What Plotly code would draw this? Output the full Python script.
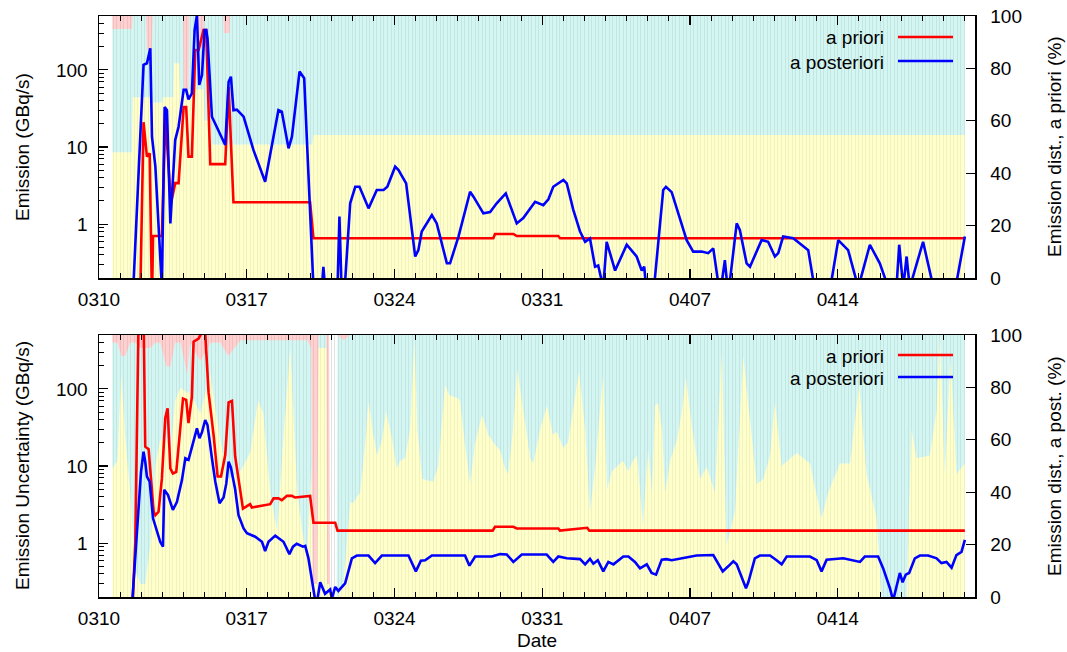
import numpy as np
import pandas as pd
import plotly.graph_objects as go

T0 = pd.Timestamp("2011-03-10 00:00")
X_END = T0 + pd.Timedelta(days=41.5)

# ---------------- data (days since 2011-03-10 00:00) ----------------
# top panel: emission, a priori
pri_top_days = [1.95, 2.11, 2.27, 2.40, 2.51, 2.56, 2.98, 3.14, 3.41, 3.61, 3.77, 4.01, 4.13, 4.24,
                4.40, 4.56, 4.72, 4.95, 5.08, 5.27, 5.98, 6.14, 6.37, 10.00, 10.16, 18.68, 18.76,
                19.63, 19.79, 21.76, 21.84, 41.02]
pri_top_vals = [0.1, 21, 7.5, 8.3, 0.1, 0.70, 0.70, 24.7, 1.86, 3.4, 3.4, 33, 33, 7.5, 7.5, 181,
                181, 329, 329, 6.0, 6.0, 60, 1.92, 1.92, 0.655, 0.655, 0.745, 0.745, 0.70, 0.70,
                0.655, 0.655]

# top panel: emission, a posteriori
post_top_days = [1.64, 2.11, 2.27, 2.43, 2.51, 2.67, 2.98, 3.11, 3.22, 3.38,
                 3.61, 3.77, 4.01, 4.13, 4.24, 4.40, 4.53, 4.64, 4.75, 4.88,
                 5.00, 5.08, 5.14, 5.35, 5.98, 6.14, 6.25, 6.37, 6.53, 6.85,
                 7.32, 7.87, 8.50, 8.66, 8.98, 9.14, 9.50, 9.72, 10.16, 10.56,
                 10.63, 10.71, 11.30, 11.39, 11.49, 11.66, 11.90, 12.14, 12.34, 12.77,
                 13.16, 13.48, 13.66, 14.03, 14.19, 14.55, 14.98, 15.13, 15.29, 15.77,
                 16.00, 16.48, 16.63, 17.03, 17.58, 17.74, 18.21, 18.53, 18.84, 19.08,
                 19.27, 19.79, 20.10, 20.66, 21.05, 21.29, 21.52, 22.00, 22.16, 22.47,
                 22.79, 23.03, 23.26, 23.50, 23.65, 23.89, 24.05, 24.45, 25.00, 25.47,
                 25.71, 25.83, 25.95, 26.26, 26.73, 26.86, 27.13, 27.84, 28.15, 28.55,
                 28.86, 29.10, 29.42, 29.65, 29.81, 30.21, 30.36, 30.68, 30.84, 31.39,
                 31.70, 32.02, 32.18, 32.41, 32.89, 33.60, 34.00, 34.54, 35.02, 35.49,
                 35.97, 36.52, 36.99, 37.62, 37.78, 37.91, 38.10, 38.26, 38.41, 39.04,
                 39.68, 40.46, 41.02]
post_top_vals = [0.18, 116, 122, 191, 13.6, 5.6, 0.15, 33, 30, 1.02,
                 12.3, 18.3, 55, 55, 41.5, 49.6, 329, 515, 63.7, 85.9,
                 329, 329, 257, 24.7, 10.6, 70, 81.6, 30, 30.5, 24.7,
                 9.1, 3.55, 30, 28.7, 9.6, 13.6, 95, 77.8, 0.15, 0.15,
                 0.28, 0.15, 0.15, 1.25, 0.15, 0.18, 1.86, 3.05, 3.05, 1.6,
                 2.77, 2.77, 3.05, 5.56, 5.03, 3.38, 0.38, 0.46, 0.80, 1.31,
                 1.02, 0.31, 0.31, 0.69, 2.63, 2.27, 1.38, 1.43, 1.86, 2.2,
                 2.5, 1.02, 1.2, 1.95, 1.76, 2.1, 3.05, 3.73, 3.38, 1.53,
                 0.80, 0.59, 0.65, 0.28, 0.29, 0.15, 0.59, 0.25, 0.54, 0.38,
                 0.25, 0.28, 0.12, 0.12, 2.77, 3.05, 2.6, 0.62, 0.44, 0.44,
                 0.42, 0.485, 0.12, 0.34, 0.12, 1.02, 0.84, 0.31, 0.28, 0.62,
                 0.59, 0.38, 0.42, 0.69, 0.655, 0.46, 0.1, 0.1, 0.62, 0.46,
                 0.15, 0.54, 0.31, 0.1, 0.15, 0.54, 0.15, 0.38, 0.15, 0.59,
                 0.1, 0.1, 0.69]

# bottom panel: uncertainty, a priori
pri_bot_days = [1.56, 1.72, 1.88, 2.11, 2.19, 2.35, 2.59, 2.67, 2.82, 2.98,
                3.14, 3.25, 3.38, 3.50, 3.66, 3.98, 4.13, 4.24, 4.40, 4.48,
                4.72, 4.88, 5.03, 5.19, 5.43, 5.62, 5.78, 5.98, 6.14, 6.30,
                6.45, 6.77, 6.82, 7.16, 7.24, 8.11, 8.27, 8.50, 8.66, 8.90,
                9.14, 9.29, 10.00, 10.16, 11.19, 11.30, 18.65, 18.76, 19.63, 19.79,
                21.76, 21.84, 22.87, 23.13, 23.23, 41.02]
pri_bot_vals = [0.1, 1.04, 1000, 1000, 17.8, 16.5, 2.55, 2.3, 2.55, 6.9,
                42, 56, 9.3, 8.0, 8.4, 75, 72, 36, 79, 409,
                450, 550, 550, 90, 25, 7.3, 7.3, 13.9, 67, 70,
                13.3, 3.1, 2.8, 3.2, 2.9, 3.2, 3.8, 3.8, 3.6, 4.1,
                4.1, 3.9, 4.1, 1.84, 1.84, 1.45, 1.45, 1.63, 1.63, 1.55,
                1.55, 1.45, 1.58, 1.58, 1.45, 1.45]

# bottom panel: uncertainty, a posteriori
post_bot_days = [1.56, 1.99, 2.11, 2.19, 2.27, 2.40, 2.56, 2.75, 2.90, 3.03,
                 3.09, 3.27, 3.50, 3.69, 3.93, 4.09, 4.24, 4.45, 4.64, 4.76,
                 4.88, 5.03, 5.14, 5.35, 5.51, 5.71, 5.90, 6.03, 6.14, 6.25,
                 6.45, 6.61, 6.85, 7.01, 7.40, 7.72, 7.87, 8.03, 8.35, 8.74,
                 9.02, 9.19, 9.37, 9.66, 9.77, 9.92, 10.13, 10.29, 10.48, 10.71,
                 10.95, 11.03, 11.19, 11.34, 11.66, 11.87, 11.98, 12.22, 12.77, 13.08,
                 13.40, 14.66, 15.01, 15.25, 15.45, 15.77, 17.34, 17.55, 17.82, 18.61,
                 19.00, 19.32, 19.63, 20.03, 21.21, 21.52, 21.76, 22.16, 22.79, 23.03,
                 23.26, 23.42, 23.63, 23.89, 24.13, 24.37, 24.53, 24.84, 25.08, 25.39,
                 25.63, 25.95, 26.18, 26.39, 26.66, 26.89, 27.13, 27.60, 28.31, 29.10,
                 29.55, 29.81, 30.05, 30.21, 30.65, 30.76, 31.07, 31.31, 31.79, 32.10,
                 32.34, 32.58, 33.68, 34.00, 34.23, 34.47, 35.26, 36.05, 36.28, 36.91,
                 37.15, 37.47, 37.62, 37.94, 38.07, 38.22, 38.38, 38.65, 38.89, 39.28,
                 39.68, 39.91, 40.15, 40.39, 40.62, 40.86, 41.02]
post_bot_vals = [0.15, 8.4, 15.3, 11.4, 7.3, 6.25, 2.1, 1.41, 1.04, 0.90,
                 4.9, 4.2, 2.7, 3.4, 6.6, 12.6, 12.0, 19.7, 30.8, 22.9,
                 27.5, 39.5, 34, 12.6, 6.25, 3.3, 3.9, 5.9, 11.4, 9.5,
                 5.0, 2.3, 1.55, 1.34, 1.21, 1.04, 0.79, 1.04, 1.25, 1.04,
                 0.72, 0.90, 0.98, 0.90, 0.92, 0.64, 0.29, 0.15, 0.31, 0.22,
                 0.25, 0.19, 0.27, 0.24, 0.30, 0.47, 0.635, 0.69, 0.69, 0.55,
                 0.69, 0.69, 0.43, 0.59, 0.6, 0.69, 0.69, 0.51, 0.67, 0.67,
                 0.72, 0.71, 0.57, 0.71, 0.71, 0.57, 0.67, 0.635, 0.62, 0.53,
                 0.625, 0.54, 0.6, 0.43, 0.57, 0.53, 0.57, 0.67, 0.67, 0.57,
                 0.47, 0.53, 0.41, 0.39, 0.61, 0.62, 0.6, 0.635, 0.69, 0.70,
                 0.43, 0.50, 0.58, 0.53, 0.26, 0.31, 0.635, 0.69, 0.69, 0.6,
                 0.53, 0.67, 0.67, 0.6, 0.43, 0.61, 0.635, 0.57, 0.67, 0.67,
                 0.47, 0.26, 0.18, 0.41, 0.31, 0.39, 0.41, 0.635, 0.69, 0.69,
                 0.635, 0.55, 0.57, 0.48, 0.70, 0.77, 1.1]

# emission distribution (%), a priori: upper edges of the stacked bands
dist_top_days = [0.63, 1.56, 1.60, 2.22, 2.27, 2.50, 2.55, 2.98, 3.02, 3.52,
                 3.56, 3.80, 3.85, 3.98, 4.02, 4.24, 4.28, 4.70, 4.74, 4.95,
                 5.00, 5.30, 5.35, 5.88, 5.92, 6.18, 6.22, 10.10, 10.16, 41.02]
dist_top_yellow = [48, 48, 69, 69, 69, 69, 67, 67, 69, 69,
                   82, 82, 70, 70, 70, 70, 72, 72, 72, 72,
                   60, 60, 51, 51, 51, 51, 51, 51, 54.6, 54.6]
dist_top_cyan = [95, 95, 100, 100, 87, 87, 100, 100, 100, 100,
                 100, 100, 100, 100, 72, 72, 100, 100, 88, 88,
                 100, 100, 100, 100, 93.5, 93.5, 100, 100, 100, 100]
dist_top_pink = [100, 100, 100, 100, 100, 100, 100, 100, 100, 100,
                 100, 100, 100, 100, 100, 100, 100, 100, 100, 100,
                 100, 100, 100, 100, 100, 100, 100, 100, 100, 100]

# emission distribution (%), a posteriori: upper edges of the stacked bands
dist_bot_days = [0.63, 0.87, 1.06, 1.25, 1.48, 1.72, 1.96, 2.19, 2.43, 2.67,
                 2.90, 3.19, 3.38, 3.61, 3.85, 4.18, 4.32, 4.80, 5.27, 5.74,
                 6.13, 6.70, 7.16, 7.54, 7.78, 8.11, 8.44, 8.73, 9.06, 9.39,
                 9.63, 9.86, 10.05, 10.12, 10.34, 10.40, 10.77, 10.81, 10.90, 10.95,
                 11.26, 11.30, 11.58, 11.90, 12.05, 12.37, 12.61, 12.77, 12.99, 13.18,
                 13.41, 13.60, 13.89, 14.10, 14.27, 14.50, 14.74, 14.94, 15.08, 15.31,
                 15.83, 16.07, 16.40, 16.59, 16.97, 17.10, 17.34, 17.58, 17.82, 18.15,
                 18.43, 18.77, 19.00, 19.24, 19.38, 19.62, 19.81, 20.09, 20.43, 20.57,
                 20.90, 21.22, 21.50, 21.70, 21.99, 22.22, 22.46, 22.74, 23.03, 23.26,
                 23.50, 23.88, 24.07, 24.30, 24.83, 25.07, 25.30, 25.49, 25.77, 26.01,
                 26.20, 26.34, 26.49, 26.67, 26.82, 27.06, 27.38, 27.62, 27.80, 28.08,
                 28.47, 28.79, 29.18, 29.50, 29.73, 30.13, 30.52, 31.16, 31.47, 31.79,
                 32.02, 32.34, 33.05, 33.68, 34.23, 34.55, 35.10, 35.58, 36.01, 36.36,
                 36.84, 37.07, 38.26, 38.49, 38.73, 39.36, 39.68, 39.83, 40.07, 40.34,
                 40.63, 41.02]
dist_bot_yellow = [49, 52, 85, 60, 40, 10, 5, 5, 20, 50,
                   60, 60, 55, 75, 80, 78, 78, 70, 85, 60,
                   45, 48, 55, 75, 70, 40, 25, 60, 95, 40,
                   25, 15, 50, 5, 5, 95, 95, 5, 5, 0,
                   0, 0, 5, 36, 36, 40, 58, 74.5, 62, 54,
                   60, 71, 60, 49, 52, 53, 64, 98, 64, 45,
                   44, 50, 81, 77, 76, 75, 58, 43, 59, 69.5,
                   62, 58, 56, 49, 47, 64, 87, 72, 53, 51,
                   64, 73, 62, 63, 57, 59, 72, 86, 64, 32.6,
                   49, 85, 41, 48, 52, 48, 52, 54, 27.5, 56,
                   40, 73, 74, 64, 40, 52, 60, 71, 84, 65.6,
                   45, 49.6, 40, 93.6, 20, 32.6, 92, 43, 45, 54,
                   74.5, 50, 55, 51, 30, 40, 51, 51, 81, 47,
                   30, 0, 0, 64, 53, 54, 71, 100, 47, 91,
                   47, 51]
dist_bot_cyan = [97, 97, 92, 92, 97, 97, 95, 95, 95, 97,
                 97, 88, 88, 97, 97, 85, 97, 90, 97, 97,
                 92, 98, 98, 98, 98, 98, 98, 98, 98, 98,
                 98, 98, 95, 5, 5, 100, 100, 5, 5, 0,
                 0, 100, 98, 100, 100, 100, 100, 100, 100, 100,
                 100, 100, 100, 100, 100, 100, 100, 100, 100, 100,
                 100, 100, 100, 100, 100, 100, 100, 100, 100, 100,
                 100, 100, 100, 100, 100, 100, 100, 100, 100, 100,
                 100, 100, 100, 100, 100, 100, 100, 100, 100, 100,
                 100, 100, 100, 100, 100, 100, 100, 100, 100, 100,
                 100, 100, 100, 100, 100, 100, 100, 100, 100, 100,
                 100, 100, 100, 100, 100, 100, 100, 100, 100, 100,
                 100, 100, 100, 100, 100, 100, 100, 100, 100, 100,
                 100, 100, 100, 100, 100, 100, 100, 100, 100, 100,
                 100, 100]
dist_bot_pink = [100, 100, 100, 100, 100, 100, 100, 100, 100, 100,
                 100, 100, 100, 100, 100, 100, 100, 100, 100, 100,
                 100, 100, 100, 100, 100, 100, 100, 100, 100, 100,
                 100, 100, 100, 100, 100, 100, 100, 100, 100, 0,
                 0, 100, 100, 100, 100, 100, 100, 100, 100, 100,
                 100, 100, 100, 100, 100, 100, 100, 100, 100, 100,
                 100, 100, 100, 100, 100, 100, 100, 100, 100, 100,
                 100, 100, 100, 100, 100, 100, 100, 100, 100, 100,
                 100, 100, 100, 100, 100, 100, 100, 100, 100, 100,
                 100, 100, 100, 100, 100, 100, 100, 100, 100, 100,
                 100, 100, 100, 100, 100, 100, 100, 100, 100, 100,
                 100, 100, 100, 100, 100, 100, 100, 100, 100, 100,
                 100, 100, 100, 100, 100, 100, 100, 100, 100, 100,
                 100, 100, 100, 100, 100, 100, 100, 100, 100, 100,
                 100, 100]

tick_days = [0, 7, 14, 21, 28, 35]
tick_text = ["0310", "0317", "0324", "0331", "0407", "0414"]
series_names = ["a priori", "a posteriori"]

# ---------------- styling ----------------
FONT_FAMILY = "Liberation Sans, Arial, Helvetica, sans-serif"
FS = 19
RED = "rgb(255,0,0)"
BLUE = "rgb(0,0,255)"
YELLOW = "rgba(255,255,160,0.55)"
CYAN = "rgba(160,236,228,0.45)"
PINK = "rgba(255,150,150,0.45)"
STRIPE = "#e2e2e2"

W, H = 1067, 652
L, R, T, B = 99, 975, 16, 597
TOP_BOTTOM_PX = 278
BOT_TOP_PX = 335


def when(days):
    return [T0 + pd.Timedelta(days=float(d)) for d in days]


def px_x(px):
    return (px - L) / (R - L)


def px_y(py):
    return (B - py) / (B - T)


fig = go.Figure()


def add_background(days, yel, cyan, pink, xa, ya):
    xs = when(days)
    fig.add_trace(go.Scatter(x=xs, y=yel, mode="lines", line=dict(width=0), fill="tozeroy",
                             fillcolor=YELLOW, xaxis=xa, yaxis=ya, showlegend=False, hoverinfo="skip"))
    fig.add_trace(go.Scatter(x=xs, y=cyan, mode="lines", line=dict(width=0), fill="tonexty",
                             fillcolor=CYAN, xaxis=xa, yaxis=ya, showlegend=False, hoverinfo="skip"))
    fig.add_trace(go.Scatter(x=xs, y=pink, mode="lines", line=dict(width=0), fill="tonexty",
                             fillcolor=PINK, xaxis=xa, yaxis=ya, showlegend=False, hoverinfo="skip"))


add_background(dist_top_days, dist_top_yellow, dist_top_cyan, dist_top_pink, "x", "y")
add_background(dist_bot_days, dist_bot_yellow, dist_bot_cyan, dist_bot_pink, "x2", "y3")

# dummy traces so the stripe axes exist
fig.add_trace(go.Scatter(x=[T0], y=[None], xaxis="x3", yaxis="y", showlegend=False, hoverinfo="skip"))
fig.add_trace(go.Scatter(x=[T0], y=[None], xaxis="x4", yaxis="y3", showlegend=False, hoverinfo="skip"))

for days, vals, col, xa, ya in [
    (pri_top_days, pri_top_vals, RED, "x", "y2"),
    (post_top_days, post_top_vals, BLUE, "x", "y2"),
    (pri_bot_days, pri_bot_vals, RED, "x2", "y4"),
    (post_bot_days, post_bot_vals, BLUE, "x2", "y4"),
]:
    fig.add_trace(go.Scatter(x=when(days), y=vals, mode="lines", line=dict(color=col, width=2.6),
                             xaxis=xa, yaxis=ya, showlegend=False, hoverinfo="skip"))

tick_font = dict(family=FONT_FAMILY, size=FS, color="black")
top_dom = [px_y(TOP_BOTTOM_PX), 1.0]
bot_dom = [0.0, px_y(BOT_TOP_PX)]

stripe_vals = pd.date_range("2011-03-10 16:00", "2011-04-20 00:00", freq="4h")


def xaxis_main(anchor):
    return dict(type="date", domain=[0, 1], anchor=anchor, range=[T0, X_END], automargin=False,
                tickmode="array", tickvals=when(tick_days), ticktext=tick_text,
                ticks="inside", ticklen=9, tickwidth=1.2, tickcolor="black",
                showline=True, linecolor="black", linewidth=1.5, mirror="ticks",
                showgrid=False, zeroline=False, tickfont=tick_font, ticklabelstandoff=4,
                minor=dict(tickmode="linear", tick0=T0, dtick=86400000, ticks="inside",
                           ticklen=5, tickwidth=1, tickcolor="black", showgrid=False))


def xaxis_stripe(over, anchor):
    return dict(type="date", overlaying=over, anchor=anchor, range=[T0, X_END], automargin=False,
                tickmode="array", tickvals=stripe_vals, showticklabels=False, ticks="",
                showgrid=True, gridcolor=STRIPE, gridwidth=1, showline=False, zeroline=False)


def yaxis_pct(dom, anchor):
    return dict(domain=dom, anchor=anchor, side="right", range=[0, 100], automargin=False,
                tickmode="array", tickvals=[0, 20, 40, 60, 80, 100],
                ticks="inside", ticklen=9, tickwidth=1.2, tickcolor="black",
                showline=True, linecolor="black", linewidth=1.5, showgrid=False,
                zeroline=False, tickfont=tick_font, ticklabelstandoff=10)


minor_log = [0.2, 0.3, 0.4, 0.5, 0.6, 0.7, 0.8, 0.9, 2, 3, 4, 5, 6, 7, 8, 9,
             20, 30, 40, 50, 60, 70, 80, 90, 200, 300, 400, 500]


def yaxis_log(over, anchor):
    return dict(type="log", overlaying=over, anchor=anchor, side="left", automargin=False,
                range=[np.log10(0.2), np.log10(500)],
                tickmode="array", tickvals=[1, 10, 100], ticktext=["1", "10", "100"],
                ticks="inside", ticklen=9, tickwidth=1.2, tickcolor="black",
                showline=True, linecolor="black", linewidth=1.5, showgrid=False,
                zeroline=False, tickfont=tick_font, ticklabelstandoff=6,
                minor=dict(tickmode="array", tickvals=minor_log, ticks="inside", ticklen=5,
                           tickwidth=1, tickcolor="black", showgrid=False))


fig.update_layout(
    width=W, height=H,
    margin=dict(l=L, r=W - R, t=T, b=H - B, pad=0, autoexpand=False),
    paper_bgcolor="white", plot_bgcolor="white",
    font=dict(family=FONT_FAMILY, size=FS, color="black"),
    showlegend=False,
    hovermode=False,
    xaxis=xaxis_main("y"),
    xaxis2=xaxis_main("y3"),
    xaxis3=xaxis_stripe("x", "y"),
    xaxis4=xaxis_stripe("x2", "y3"),
    yaxis=yaxis_pct(top_dom, "x"),
    yaxis2=yaxis_log("y", "x"),
    yaxis3=yaxis_pct(bot_dom, "x2"),
    yaxis4=yaxis_log("y3", "x2"),
)

ann = []
ann.append(dict(text="Emission (GBq/s)", x=px_x(22), y=px_y(147), textangle=-90))
ann.append(dict(text="Emission Uncertainty (GBq/s)", x=px_x(22), y=px_y(466), textangle=-90))
ann.append(dict(text="Emission dist., a priori (%)", x=px_x(1054), y=px_y(147), textangle=-90))
ann.append(dict(text="Emission dist., a post. (%)", x=px_x(1054), y=px_y(466), textangle=-90))
ann.append(dict(text="Date", x=px_x(537), y=px_y(640)))
for a in ann:
    a.update(xref="paper", yref="paper", showarrow=False, xanchor="center", yanchor="middle",
             font=dict(family=FONT_FAMILY, size=FS, color="black"))
    fig.add_annotation(**a)

# legends (text right-aligned, sample line on the right)
for y_text, y_line, col, name in [(38, 37, RED, series_names[0]), (62, 61, BLUE, series_names[1]),
                                  (356, 355, RED, series_names[0]), (378, 377, BLUE, series_names[1])]:
    fig.add_annotation(text=name, x=px_x(886), y=px_y(y_text), xref="paper", yref="paper",
                       showarrow=False, xanchor="right", yanchor="middle",
                       font=dict(family=FONT_FAMILY, size=FS, color="black"))
    fig.add_shape(type="line", xref="paper", yref="paper", x0=px_x(898), x1=px_x(953),
                  y0=px_y(y_line), y1=px_y(y_line), line=dict(color=col, width=2.6), layer="above")

fig.write_html("out.html", config={"displayModeBar": False, "staticPlot": True},
               post_script=["document.body.style.margin='0px';"
                            "document.body.style.overflow='hidden';"])
